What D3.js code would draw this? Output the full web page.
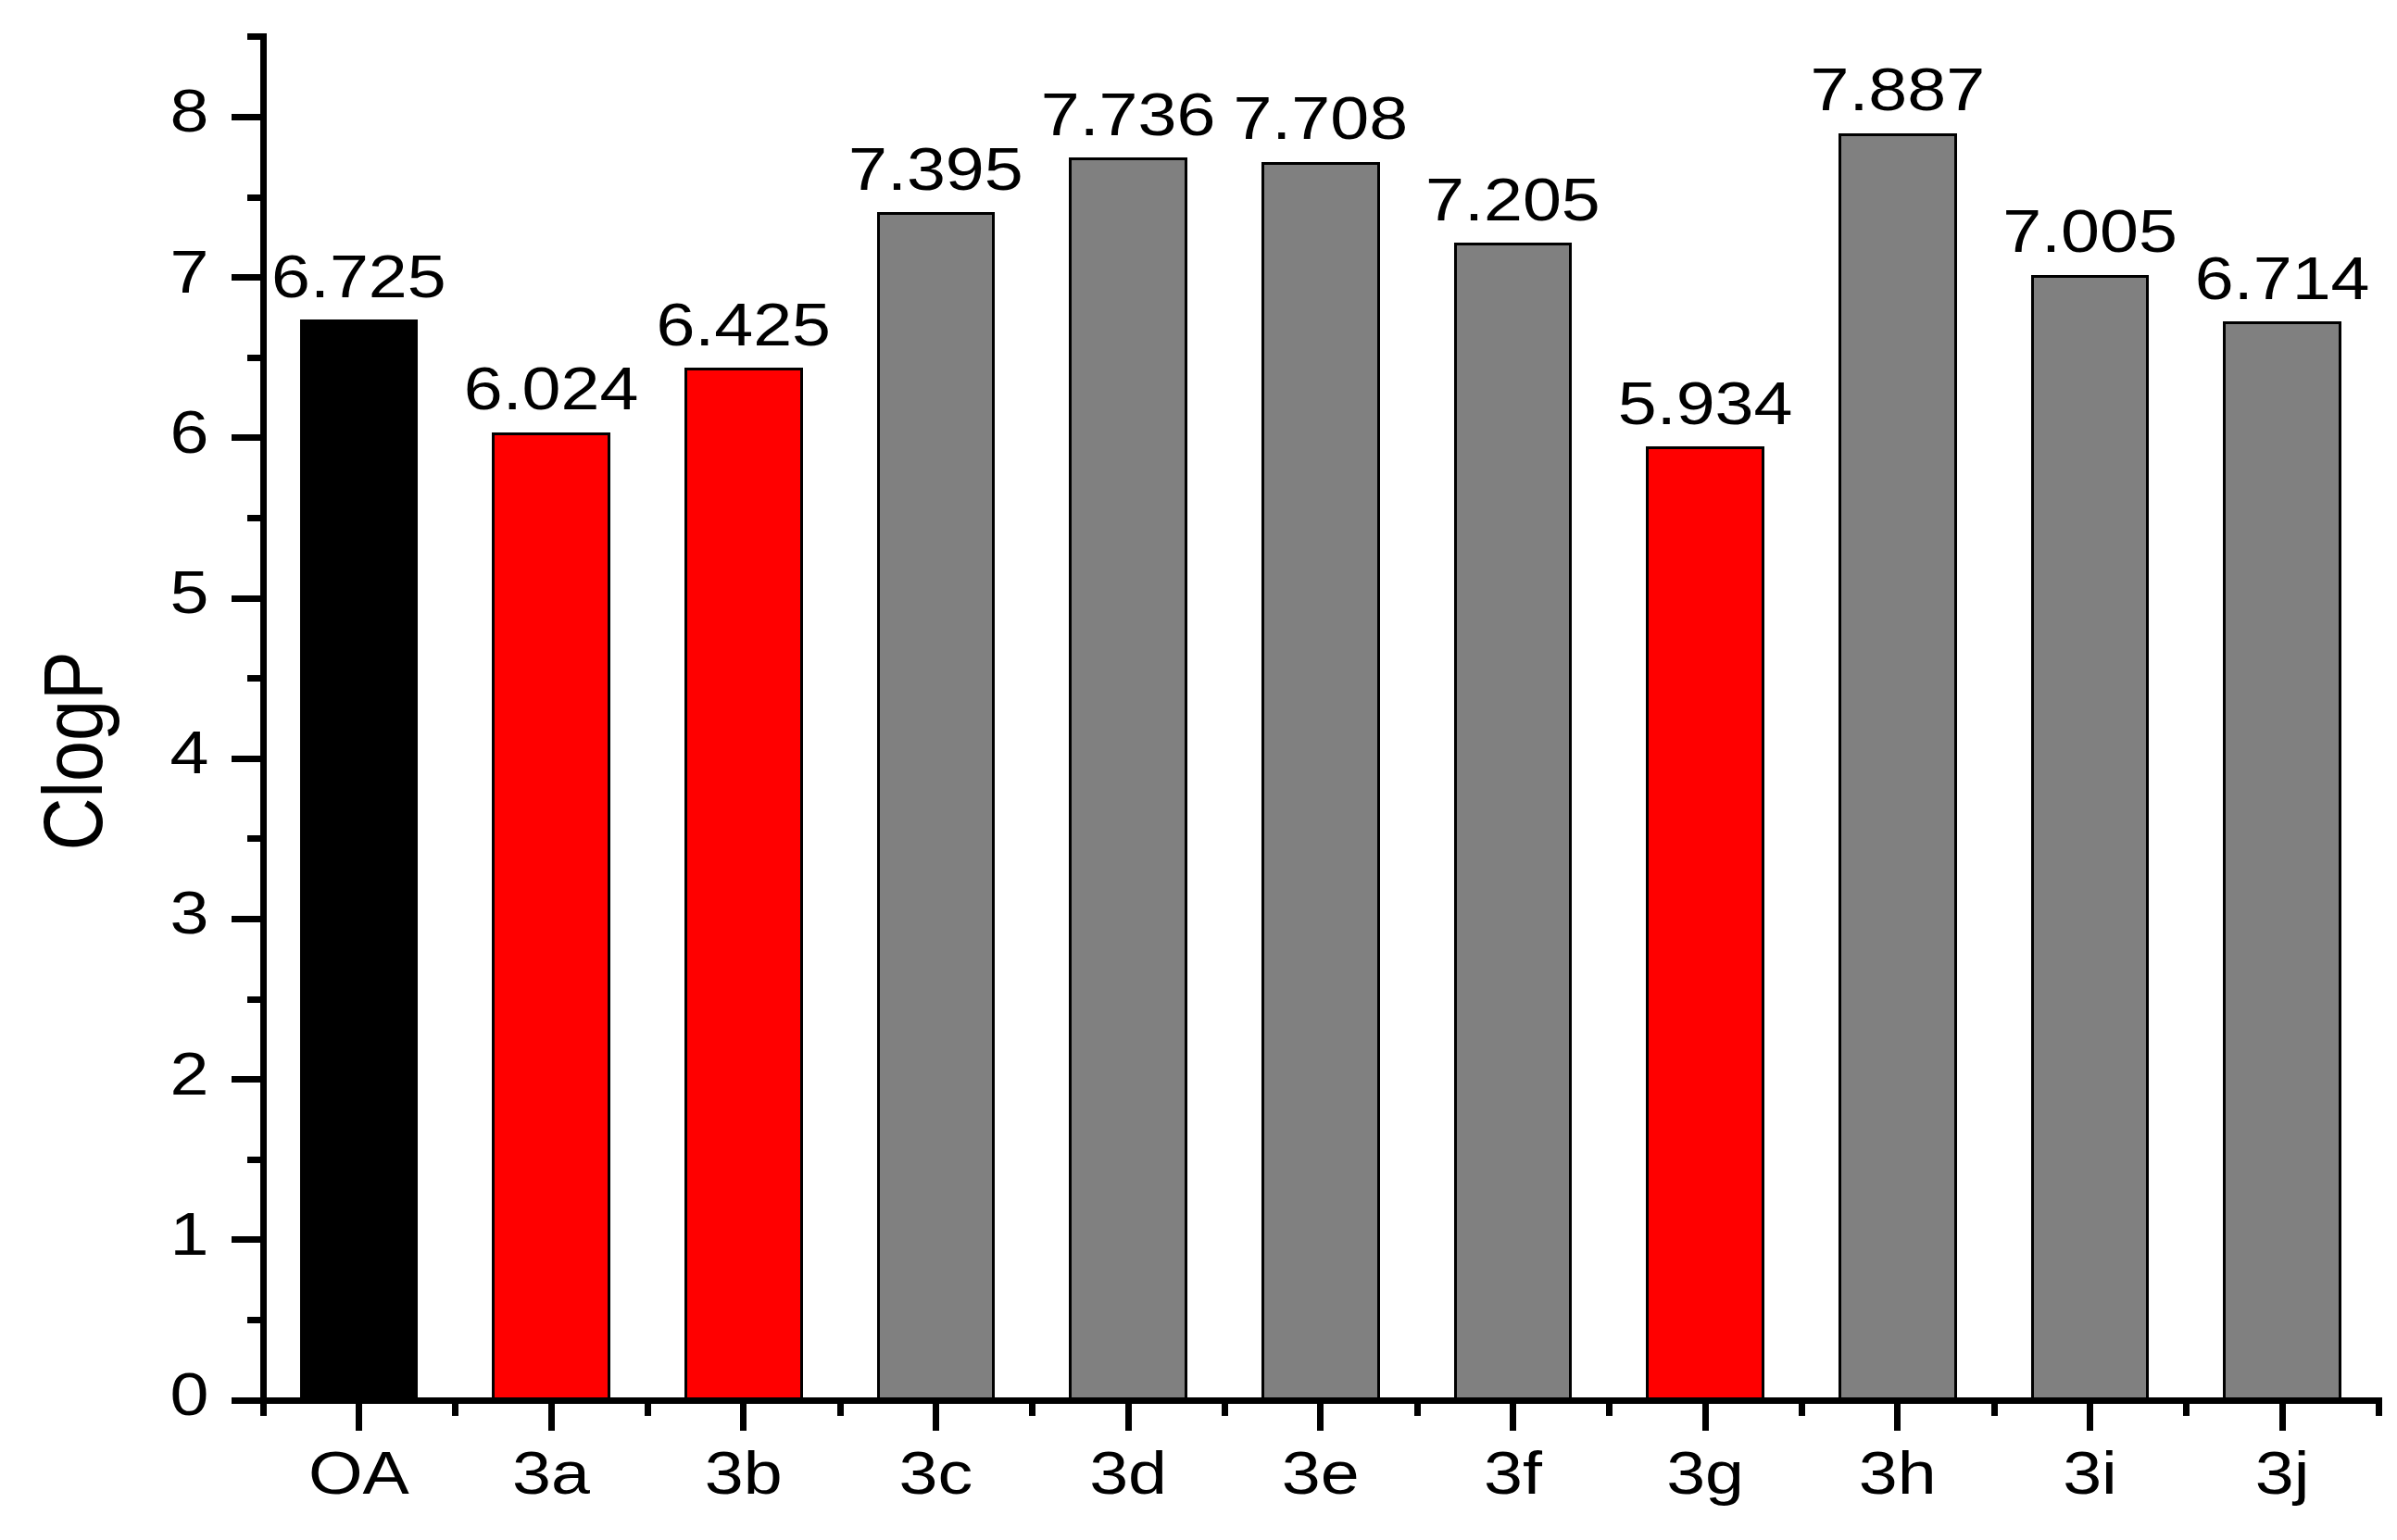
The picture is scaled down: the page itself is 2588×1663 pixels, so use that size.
<!DOCTYPE html>
<html><head><meta charset="utf-8">
<script src="https://cdn.jsdelivr.net/npm/d3@7"></script>
<style>html,body{margin:0;padding:0;background:#fff;} svg{display:block;}</style>
</head><body>
<script>
// ---- data ----
const categories = ["OA","3a","3b","3c","3d","3e","3f","3g","3h","3i","3j"];
const clogP = [6.725, 6.024, 6.425, 7.395, 7.736, 7.708, 7.205, 5.934, 7.887, 7.005, 6.714];
const groups = ["parent","lower","lower","higher","higher","higher","higher","lower","higher","higher","higher"];
const yTicks = [0, 1, 2, 3, 4, 5, 6, 7, 8];
const yMinorTicks = [0.5, 1.5, 2.5, 3.5, 4.5, 5.5, 6.5, 7.5, 8.5];
const yLabel = "ClogP";

// ---- layout / style ----
const W = 2588, H = 1663;
const X0 = 283.5, X1 = 2568, Y0 = 1511.5, PX_PER_UNIT = 173.2;
const FONT = "'Liberation Sans', Arial, sans-serif";
const STRETCH = 1.16;
const colorOf = d3.scaleOrdinal().domain(["parent","lower","higher"]).range(["#000000","#ff0000","#808080"]);

const svg = d3.select("body").append("svg").attr("width", W).attr("height", H)
  .style("background", "#fff");

const x = d3.scaleBand().domain(categories).range([X0, X1]).paddingInner(0.4).paddingOuter(0.2);
const xb = d3.scaleLinear().domain([0, categories.length]).range([X0, X1]);
const y = d3.scaleLinear().domain([0, 8.5]).range([Y0, Y0 - 8.5 * PX_PER_UNIT]);

const data = categories.map((c, i) => ({c, v: clogP[i], g: groups[i]}));

// bars
svg.append("g").selectAll("rect").data(data).join("rect")
  .attr("x", d => x(d.c)).attr("width", x.bandwidth())
  .attr("y", d => y(d.v)).attr("height", d => y(0) - y(d.v))
  .attr("fill", d => colorOf(d.g))
  .attr("stroke", "#000").attr("stroke-width", 3)
  .attr("shape-rendering", "crispEdges");

// value labels
const fmt = d3.format(".3f");
svg.append("g").selectAll("text").data(data).join("text")
  .attr("transform", d => `translate(${x(d.c) + x.bandwidth() / 2},${y(d.v) - 26}) scale(${STRETCH},1)`)
  .attr("text-anchor", "middle")
  .attr("font-family", FONT).attr("font-size", 65).attr("fill", "#000")
  .text(d => fmt(d.v));

function styleAxis(g) {
  g.selectAll(".domain").attr("stroke", "#000").attr("stroke-width", 7)
    .attr("stroke-linecap", "square").attr("shape-rendering", "crispEdges");
  g.selectAll(".tick line").attr("stroke", "#000").attr("stroke-width", 7)
    .attr("shape-rendering", "crispEdges");
}

// y minor ticks
const gyMinor = svg.append("g").attr("transform", `translate(${X0},0)`)
  .call(d3.axisLeft(y).tickValues(yMinorTicks).tickSize(16.5).tickFormat(""));
gyMinor.select(".domain").remove();
styleAxis(gyMinor);

// y major axis
const gy = svg.append("g").attr("transform", `translate(${X0},0)`)
  .call(d3.axisLeft(y).tickValues(yTicks).tickSize(33.5).tickSizeOuter(0).tickFormat(d3.format("d")));
styleAxis(gy);
gy.selectAll(".tick text")
  .attr("x", null).attr("dy", null)
  .attr("transform", `translate(-58,16) scale(${STRETCH},1)`)
  .attr("text-anchor", "end")
  .attr("font-family", FONT).attr("font-size", 65).attr("fill", "#000");

// x minor ticks
const gxMinor = svg.append("g").attr("transform", `translate(0,${Y0})`)
  .call(d3.axisBottom(xb).tickValues(d3.range(categories.length + 1)).tickSize(17.5).tickFormat(""));
gxMinor.select(".domain").remove();
styleAxis(gxMinor);

// x major axis
const gx = svg.append("g").attr("transform", `translate(0,${Y0})`)
  .call(d3.axisBottom(x).tickSize(33).tickSizeOuter(0));
styleAxis(gx);
gx.selectAll(".tick text")
  .attr("y", null).attr("dy", null)
  .attr("transform", `translate(0,101.5) scale(${STRETCH},1)`)
  .attr("text-anchor", "middle")
  .attr("font-family", FONT).attr("font-size", 65).attr("fill", "#000");

// y label
svg.append("text")
  .attr("transform", `translate(110,811) rotate(-90) scale(1,${STRETCH})`)
  .attr("text-anchor", "middle")
  .attr("font-family", FONT).attr("font-size", 79).attr("fill", "#000")
  .text(yLabel);
</script>
</body></html>
